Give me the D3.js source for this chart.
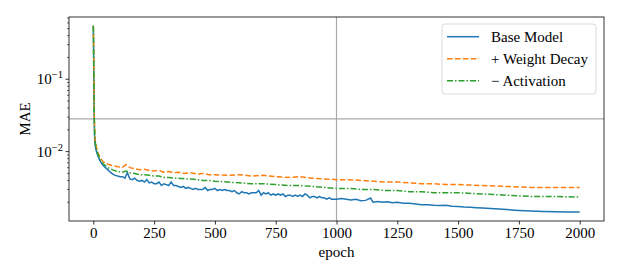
<!DOCTYPE html>
<html>
<head>
<meta charset="utf-8">
<script src="https://cdn.jsdelivr.net/npm/d3@7"></script>
<style>
  body { margin: 0; background: #fff; }
  text { font-family: "Liberation Serif", "Times New Roman", serif; fill: #000; }
</style>
</head>
<body>
<div id="container"></div>
<script>
var scene_width = 623, scene_height = 278

// data
var baseEpoch = [0,1,2,3,4,5,6,8,10,15,20,30,40,50,60,70,80,90,100,110,120,130,140,150,160,170,180,190,200,210,220,230,240,250,260,270,280,290,300,310,320,330,340,350,360,370,380,390,400,410,420,430,440,450,460,470,480,490,500,510,520,530,540,550,560,570,580,590,600,610,620,630,640,650,660,670,680,690,700,710,720,730,740,750,760,770,780,790,800,810,820,830,840,850,860,870,880,890,900,910,920,930,940,950,960,970,980,990,1000,1020,1040,1060,1080,1100,1120,1140,1150,1170,1190,1210,1230,1250,1275,1300,1325,1350,1375,1400,1425,1450,1475,1500,1525,1550,1575,1600,1650,1700,1750,1800,1850,1900,1950,2000]
var baseMAE = [0.55,0.28,0.11,0.045,0.025,0.017,0.014,0.012,0.011,0.0095,0.0085,0.0072,0.0065,0.006,0.0056,0.0052,0.0049,0.0047,0.0046,0.0045,0.0045,0.0043,0.0051,
    0.0042,0.0041,0.0043,0.004,0.0039,0.004,0.0038,0.0041,0.0037,0.0038,0.0036,0.0036,0.0038,0.0034,0.0036,0.0035,0.0034,0.0038,0.0034,0.0034,0.0033,0.0032,0.0033,0.0031,0.0032,0.0031,
    0.003,0.0031,0.003,0.003,0.003,0.0032,0.0029,0.003,0.003,0.0031,0.0029,0.003,0.0029,0.003,0.0029,0.0029,0.0028,0.0029,0.0027,0.0026,0.0028,0.0027,0.0027,0.0026,0.0027,0.0027,0.0027,0.0029,0.0025,0.0027,
    0.0026,0.0027,0.0025,0.0026,0.0025,0.0026,0.0025,0.0026,0.0024,0.0025,0.0025,0.0024,0.0025,0.0024,0.0025,0.0024,0.0026,0.0025,0.0023,0.0024,0.0024,0.0023,0.0024,0.0023,0.0023,0.0022,0.0023,0.0022,0.0022,0.0022,
    0.00225,0.0022,0.00215,0.0022,0.0021,0.00212,0.00228,0.002,0.00205,0.002,0.00203,0.00197,0.00199,0.00194,0.00193,0.00189,0.00185,0.00185,0.00182,0.0018,0.00181,0.00176,0.00175,0.00172,0.0017,0.00168,0.00166,0.00162,0.00158,0.00154,0.00151,0.00149,0.00148,0.00147,0.00147]

var otherEpoch = [0,1,2,3,4,5,6,8,10,15,20,30,40,50,60,80,100,120,135,150,170,190,210,230,250,270,290,310,330,350,375,400,425,450,475,500,550,600,650,700,750,800,850,900,950,1000,1050,1100,1150,1200,1250,1300,1350,1400,1450,1500,1600,1700,1800,1900,2000]
var wdMAE = [0.55,0.35,0.15,0.06,0.032,0.022,0.017,0.014,0.0128,0.0108,0.0095,0.008,0.0073,0.0069,0.0067,0.0064,0.0062,0.0061,0.0066,0.006,0.0058,0.0056,0.0057,0.0055,0.0054,0.0055,0.0052,0.0053,0.0051,0.0052,0.005,0.0051,0.0049,0.005,0.0048,0.0048,0.0047,0.0048,0.0046,0.0047,0.0045,0.0044,0.0045,0.0043,0.0042,0.0041,0.0041,0.004,0.0039,0.0038,0.0038,0.0037,0.0036,0.0036,0.0035,0.0035,0.0034,0.0033,0.0032,0.0032,0.0032]
var actMAE = [0.55,0.33,0.14,0.055,0.03,0.021,0.016,0.0135,0.0122,0.0102,0.009,0.0076,0.0068,0.0064,0.006,0.0056,0.0053,0.0052,0.0054,0.0051,0.005,0.0048,0.0048,0.0047,0.0046,0.0046,0.0044,0.0044,0.0043,0.0043,0.0042,0.0042,0.0041,0.004,0.004,0.0039,0.0038,0.0037,0.0036,0.0036,0.0035,0.0034,0.0034,0.0033,0.0032,0.0031,0.0031,0.003,0.003,0.0029,0.0029,0.0028,0.0028,0.0027,0.0027,0.0027,0.0026,0.0025,0.0024,0.0024,0.00235]

var xTicks = [0,250,500,750,1000,1250,1500,1750,2000]
var yMajor = [-2,-1]
var seriesNames = ['Base Model', '+ Weight Decay', '\u2212 Activation']
var seriesColors = ['#1f77b4', '#ff7f0e', '#2ca02c']
var seriesDash = [null, '5.5,2.4', '6,2,1.5,2']
var hLine = 0.0283, vLine = 1000

var pLeft = 69, pRight = 604, pTop = 17, pBottom = 221

var svg = d3.select('#container').append('svg')
    .attr('width', scene_width)
    .attr('height', scene_height)

var x = d3.scaleLinear().domain([-100, 2100]).range([pLeft, pRight])
var y = d3.scaleLog().domain([0.0011, 0.724]).range([pBottom, pTop])

// reference lines
svg.append('line')
    .attr('x1', pLeft).attr('x2', pRight)
    .attr('y1', y(hLine)).attr('y2', y(hLine))
    .style('stroke', '#aaaaaa').style('stroke-width', 1.2)
svg.append('line')
    .attr('x1', x(vLine)).attr('x2', x(vLine))
    .attr('y1', pTop).attr('y2', pBottom)
    .style('stroke', '#aaaaaa').style('stroke-width', 1.2)

var line = d3.line().x(d => x(d[0])).y(d => y(d[1]))
var series = [
    d3.zip(baseEpoch, baseMAE),
    d3.zip(otherEpoch, wdMAE),
    d3.zip(otherEpoch, actMAE)
]
;[0, 1, 2].forEach(function(i) {
    svg.append('path')
        .datum(series[i])
        .attr('d', line)
        .style('fill', 'none')
        .style('stroke', seriesColors[i])
        .style('stroke-width', 1.5)
        .style('stroke-dasharray', seriesDash[i])
})

// axes
var xAxis = d3.axisBottom(x).tickValues(xTicks).tickSize(3.5).tickPadding(3).tickFormat(d3.format('d'))
var gx = svg.append('g').attr('transform', 'translate(0,' + pBottom + ')').call(xAxis)
gx.select('.domain').remove()
gx.selectAll('text').style('font-size', '15px').style('font-family', '"Liberation Serif", serif')
gx.selectAll('line').style('stroke', '#000').style('stroke-width', 0.8)

var minor = []
;[-3, -2, -1].forEach(function(p) {
    for (var m = 2; m <= 9; m++) {
        var v = m * Math.pow(10, p)
        if (v >= 0.0011 && v <= 0.724) minor.push(v)
    }
})
svg.selectAll('.minor').data(minor).enter().append('line')
    .attr('x1', pLeft - 2).attr('x2', pLeft)
    .attr('y1', d => y(d)).attr('y2', d => y(d))
    .style('stroke', '#000').style('stroke-width', 0.6)
svg.selectAll('.major').data(yMajor).enter().append('line')
    .attr('x1', pLeft - 3.5).attr('x2', pLeft)
    .attr('y1', d => y(Math.pow(10, d))).attr('y2', d => y(Math.pow(10, d)))
    .style('stroke', '#000').style('stroke-width', 0.8)
var ylab = svg.selectAll('.ylab').data(yMajor).enter().append('text')
    .attr('x', pLeft - 6)
    .attr('y', d => y(Math.pow(10, d)) + 5)
    .attr('text-anchor', 'end')
    .style('font-size', '15px')
ylab.append('tspan').text('10')
ylab.append('tspan').attr('dy', -6).style('font-size', '10.5px').text(d => '\u2212' + (-d))

// frame
svg.append('rect')
    .attr('x', pLeft).attr('y', pTop)
    .attr('width', pRight - pLeft).attr('height', pBottom - pTop)
    .style('fill', 'none').style('stroke', '#000').style('stroke-width', 0.8)

svg.append('text')
    .attr('x', (pLeft + pRight) / 2).attr('y', 257)
    .attr('text-anchor', 'middle').style('font-size', '15px')
    .text('epoch')
svg.append('text')
    .attr('transform', 'translate(30,' + ((pTop + pBottom) / 2) + ') rotate(-90)')
    .attr('text-anchor', 'middle').style('font-size', '15px')
    .text('MAE')

// legend
var lg = svg.append('g')
lg.append('rect')
    .attr('x', 442).attr('y', 24).attr('width', 154).attr('height', 70)
    .attr('rx', 3)
    .style('fill', '#fff').style('fill-opacity', 0.8)
    .style('stroke', '#d0d0d0').style('stroke-width', 0.8)
seriesNames.forEach(function(name, i) {
    var yy = 36.7 + i * 22
    lg.append('line')
        .attr('x1', 447).attr('x2', 479)
        .attr('y1', yy).attr('y2', yy)
        .style('stroke', seriesColors[i]).style('stroke-width', 1.5)
        .style('stroke-dasharray', seriesDash[i])
    lg.append('text')
        .attr('x', 491).attr('y', yy + 5)
        .style('font-size', '15px')
        .text(name)
})
</script>
</body>
</html>
